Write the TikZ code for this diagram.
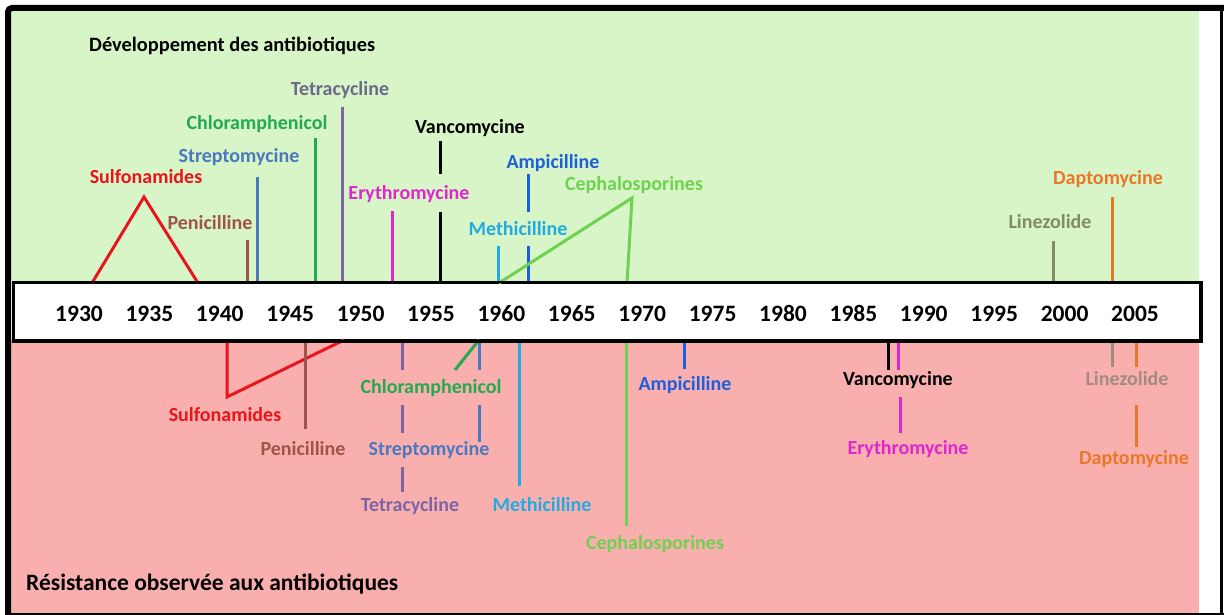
\documentclass[tikz,border=0pt]{standalone}
\usepackage{fontspec}
\setmainfont{Carlito}
\definecolor{bggreen}{RGB}{215,245,198}
\definecolor{bgpink}{RGB}{250,175,175}
\definecolor{csulf}{RGB}{232,22,28}
\definecolor{cpeni}{RGB}{160,85,75}
\definecolor{cstrep}{RGB}{75,120,190}
\definecolor{cchlor}{RGB}{35,170,80}
\definecolor{ctetra}{RGB}{125,100,165}
\definecolor{ctetral}{RGB}{110,105,140}
\definecolor{cery}{RGB}{222,40,205}
\definecolor{cmeth}{RGB}{35,170,225}
\definecolor{campi}{RGB}{30,95,220}
\definecolor{cceph}{RGB}{110,210,80}
\definecolor{cline}{RGB}{130,140,105}
\definecolor{clinel}{RGB}{160,140,130}
\definecolor{cdapt}{RGB}{232,120,40}
\begin{document}
\begin{tikzpicture}[x=1pt,y=-1pt,
  lbl/.style={font=\fontsize{20}{24}\selectfont\bfseries, anchor=base, inner sep=0pt},
  yr/.style={font=\fontsize{23.5}{28}\selectfont\bfseries, anchor=base, inner sep=0pt},
  ttl/.style={font=\fontsize{20.4}{24}\selectfont\bfseries, anchor=base west, inner sep=0pt},
  ttlb/.style={font=\fontsize{23.5}{28}\selectfont\bfseries, anchor=base west, inner sep=0pt},
  tk/.style={line width=3pt},
  tri/.style={line width=3pt, line join=miter}]
\useasboundingbox (0,0) rectangle (1224,615);
% backgrounds
\fill[bggreen] (11,11) rectangle (1199,284);
\fill[bgpink] (11,339) rectangle (1199,613);
% frame
\draw[line width=6pt, rounded corners=4pt] (1224,8) -- (8,8) -- (8,615);
\draw[line width=3pt] (1221.5,8) -- (1221.5,615);
\draw[line width=2pt] (8,614) -- (1224,614);
% timeline box
\node[draw=black, line width=2.5pt, fill=white, minimum width=1186pt, minimum height=57pt, inner sep=0pt] (axis) at (607,311.5) {};
\foreach \y [count=\i from 0] in {1930,1935,...,2005}
  \node[yr] (y\y) at ({79+\i*70.4},321) {\y};
% titles
\node[ttl] (dev) at (89,52) {Développement des antibiotiques};
\node[ttlb] (res) at (26,590) {Résistance observée aux antibiotiques};

% ---------- upper: development ----------
\coordinate (top) at (0,283);
\draw[tri, csulf] (92,283) -- (144,197) -- (198,283);
\node[lbl, csulf] (sulfU) at (146,183) {Sulfonamides};
\draw[tk, cpeni] (247,240) -- (247,283);
\node[lbl, cpeni] (peniU) at (210,229) {Penicilline};
\draw[tk, cstrep] (257,177) -- (257,283);
\node[lbl, cstrep] (strepU) at (239,163) {Streptomycine};
\draw[tk, cchlor] (315,138) -- (315,283);
\node[lbl, cchlor] (chlorU) at (257,130) {Chloramphenicol};
\draw[tk, ctetra] (342,107) -- (342,283);
\node[lbl, ctetral] (tetraU) at (340,96) {Tetracycline};
\draw[tk, cery] (392,211) -- (392,283);
\node[lbl, cery] (eryU) at (409,200) {Erythromycine};
\draw[tk, black] (440,141) -- (440,174);
\draw[tk, black] (440,212) -- (440,283);
\node[lbl, black] (vancU) at (470,134) {Vancomycine};
\draw[tk, cmeth] (498,246) -- (498,283);
\node[lbl, cmeth] (methU) at (518,235) {Methicilline};
\draw[tk, campi] (528,174) -- (528,212);
\draw[tk, campi] (528,246) -- (528,283);
\node[lbl, campi] (ampiU) at (553,169) {Ampicilline};
\draw[tri, cceph] (499,283) -- (632,198) -- (627,283);
\node[lbl, cceph] (cephU) at (634,190) {Cephalosporines};
\draw[tk, cline] (1053,241) -- (1053,283);
\node[lbl, cline] (lineU) at (1050,228) {Linezolide};
\draw[tk, cdapt] (1112,197) -- (1112,283);
\node[lbl, cdapt] (daptU) at (1108,185) {Daptomycine};

% ---------- lower: resistance ----------
\draw[tri, csulf] (227,340) -- (227,397) -- (344,340);
\node[lbl, csulf] (sulfL) at (225,421) {Sulfonamides};
\draw[tk, cpeni] (305,340) -- (305,429);
\node[lbl, cpeni] (peniL) at (303,455) {Penicilline};
\draw[tk, ctetra] (402,340) -- (402,370);
\draw[tk, ctetra] (402,405) -- (402,433);
\draw[tk, ctetra] (402,467) -- (402,492);
\node[lbl, ctetra] (tetraL) at (410,511) {Tetracycline};
\draw[tk, cchlor] (479,340) -- (455,370);
\node[lbl, cchlor] (chlorL) at (431,393) {Chloramphenicol};
\draw[tk, cstrep] (479,340) -- (479,370);
\draw[tk, cstrep] (479,405) -- (479,442);
\node[lbl, cstrep] (strepL) at (429,455) {Streptomycine};
\draw[tk, cmeth] (519,340) -- (519,486);
\node[lbl, cmeth] (methL) at (542,511) {Methicilline};
\draw[tk, cceph] (626,340) -- (626,526);
\node[lbl, cceph] (cephL) at (655,549) {Cephalosporines};
\draw[tk, campi] (684,340) -- (684,369);
\node[lbl, campi] (ampiL) at (685,390) {Ampicilline};
\draw[tk, black] (888,340) -- (888,370);
\node[lbl, black] (vancL) at (898,385) {Vancomycine};
\draw[tk, cery] (898,340) -- (898,370);
\draw[tk, cery] (900,397) -- (900,433);
\node[lbl, cery] (eryL) at (908,454) {Erythromycine};
\draw[tk, clinel] (1112,340) -- (1112,367);
\node[lbl, clinel] (lineL) at (1127,385) {Linezolide};
\draw[tk, cdapt] (1136,340) -- (1136,367);
\draw[tk, cdapt] (1136,405) -- (1136,447);
\node[lbl, cdapt] (daptL) at (1134,464) {Daptomycine};
% redraw axis border over tick ends
\draw[line width=2.5pt] (axis.north west) rectangle (axis.south east);
\end{tikzpicture}
\end{document}
